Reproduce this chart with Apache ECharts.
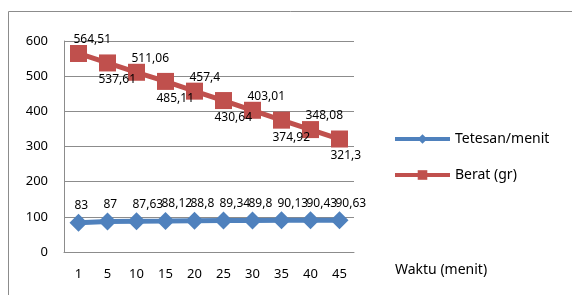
<!DOCTYPE html>
<html>
<head>
<meta charset="utf-8">
<script src="https://cdn.jsdelivr.net/npm/echarts@6/dist/echarts.min.js"></script>
<style>
  html, body { margin: 0; padding: 0; background: #fff; }
  #chart { width: 572px; height: 295px; }
</style>
</head>
<body>
<div id="chart"></div>
<script>
// data
const waktu = ['1', '5', '10', '15', '20', '25', '30', '35', '40', '45'];
const tetesan = [83, 87, 87.63, 88.12, 88.8, 89.34, 89.8, 90.13, 90.43, 90.63];
const berat = [564.51, 537.61, 511.06, 485.11, 457.4, 430.64, 403.01, 374.92, 348.08, 321.3];
const yTicks = [0, 100, 200, 300, 400, 500, 600];

const font = 'Noto Sans';
const comma = p => String(p.value).replace('.', ',');

const chart = echarts.init(document.getElementById('chart'));

// Berat labels alternate above / below the line
const beratData = berat.map((v, i) => ({
  value: v,
  label: { offset: i % 2 === 0 ? [-5, -14] : [-9, 17] }
}));

chart.setOption({
  animation: false,
  textStyle: { fontFamily: font },
  grid: { left: 64, top: 41, width: 290, height: 211 },
  graphic: [{
    type: 'rect',
    shape: { x: 8.5, y: 11.5, width: 620, height: 320 },
    style: { fill: 'none', stroke: '#8c8c8c', lineWidth: 1 }
  }, {
    type: 'text',
    left: 395, top: 263,
    style: { text: 'Waktu (menit)', font: '14px "Noto Sans"', fill: '#000' }
  }],
  legend: {
    orient: 'vertical',
    left: 388, top: 127,
    itemWidth: 55, itemHeight: 12, itemGap: 22,
    lineStyle: { width: 4 },
    textStyle: { fontSize: 14, color: '#000', fontFamily: font },
    data: ['Tetesan/menit', 'Berat (gr)']
  },
  xAxis: {
    type: 'category',
    data: waktu,
    axisLine: { lineStyle: { color: '#8c8c8c', width: 1 } },
    axisTick: { show: false },
    axisLabel: { color: '#000', fontSize: 13, margin: 16 }
  },
  yAxis: {
    type: 'value',
    min: yTicks[0], max: yTicks[yTicks.length - 1], interval: 100,
    axisLine: { show: true, lineStyle: { color: '#8c8c8c', width: 1 } },
    axisTick: { show: false },
    splitLine: { lineStyle: { color: '#8c8c8c', width: 1 } },
    axisLabel: { color: '#000', fontSize: 13, margin: 16 }
  },
  series: [{
    name: 'Tetesan/menit',
    type: 'line',
    data: tetesan,
    color: '#4F81BD',
    lineStyle: { width: 5, color: '#4F81BD' },
    symbol: 'diamond', symbolSize: 18,
    label: {
      show: true, position: 'inside', align: 'left', offset: [-4, -17],
      color: '#000', fontSize: 12, formatter: comma
    }
  }, {
    name: 'Berat (gr)',
    type: 'line',
    data: beratData,
    color: '#C0504D',
    lineStyle: { width: 5, color: '#C0504D' },
    symbol: 'rect', symbolSize: 17,
    label: {
      show: true, position: 'inside', align: 'left',
      color: '#000', fontSize: 12, formatter: comma
    }
  }]
});

window.addEventListener('resize', () => chart.resize());
</script>
</body>
</html>
